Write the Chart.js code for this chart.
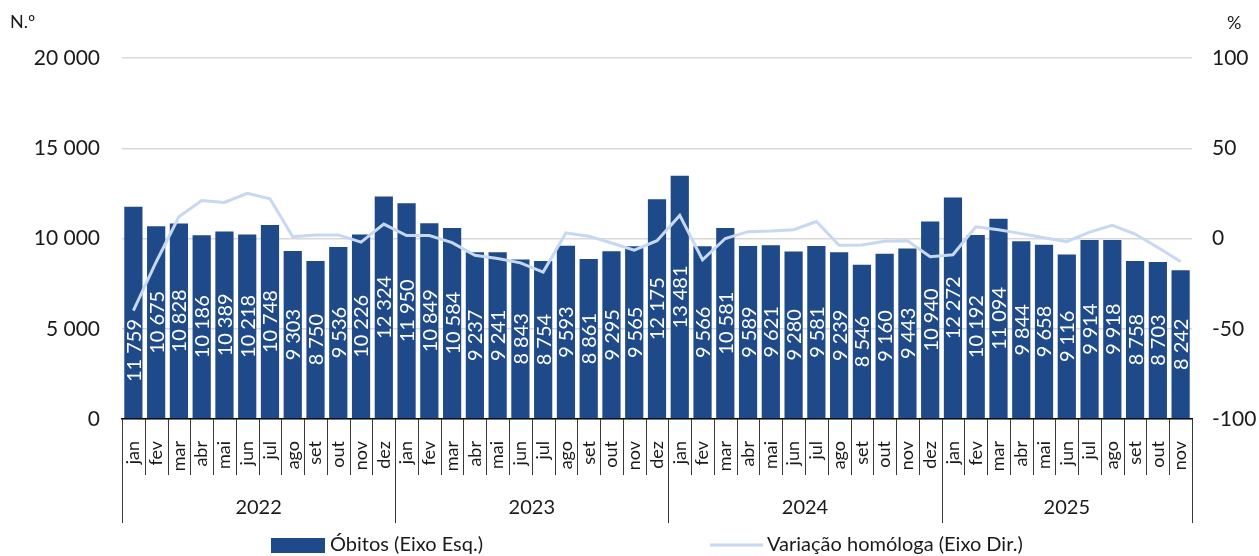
<!DOCTYPE html>
<html>
<head>
    <meta charset="UTF-8">
    <title>Óbitos por mês</title>
    <script src="https://cdn.jsdelivr.net/npm/chart.js@4.4.1/dist/chart.umd.min.js"></script>
    <style>
        html, body { margin: 0; padding: 0; background: #fff; }
        #wrap { width: 1259px; height: 556px; }
    </style>
</head>
<body>
    <script type="text/javascript">
        // data
        var years = ["2022", "2023", "2024", "2025"];
        var monthNames = ["jan", "fev", "mar", "abr", "mai", "jun", "jul", "ago", "set", "out", "nov", "dez"];
        var monthsPerYear = [12, 12, 12, 11];

        var obitos = [
            11759, 10675, 10828, 10186, 10389, 10218, 10748, 9303, 8750, 9536, 10226, 12324,
            11950, 10849, 10584, 9237, 9241, 8843, 8754, 9593, 8861, 9295, 9565, 12175,
            13481, 9566, 10581, 9589, 9621, 9280, 9581, 9239, 8546, 9160, 9443, 10940,
            12272, 10192, 11094, 9844, 9658, 9116, 9914, 9918, 8758, 8703, 8242
        ];
        var variacao = [
            -40, -13, 12, 21, 20, 25, 22, 1, 2, 2, -2, 8,
            1.6, 1.6, -2.3, -9.3, -11.1, -13.5, -18.6, 3.1, 1.3, -2.5, -6.5, -1.2,
            12.8, -11.8, 0.0, 3.8, 4.1, 4.9, 9.4, -3.7, -3.6, -1.5, -1.3, -10.1,
            -9.0, 6.5, 4.8, 2.7, 0.4, -1.8, 3.5, 7.3, 2.5, -5.0, -12.7
        ];
        var leftTicks = [0, 5000, 10000, 15000, 20000];
        var rightTicks = [-100, -50, 0, 50, 100];
        var leftUnit = "N.º";
        var rightUnit = "%";

        var labels = [];
        for (var y = 0; y < years.length; y++) {
            for (var m = 0; m < monthsPerYear[y]; m++) {
                labels.push(monthNames[m]);
            }
        }

        var FONT = "Lato, 'Liberation Sans', sans-serif";
        var BAR = "#1f4a8a";
        var LINE = "#c6d8f2";
        var INK = "#1a1a1a";

        function fmt(v) {
            // thousands separated by a narrow space, as in the original
            return String(v).replace(/\B(?=(\d{3})+(?!\d))/g, "\u202f");
        }

        var extras = {
            id: "extras",
            afterDatasetsDraw: function (chart) {
                var ctx = chart.ctx;
                var meta = chart.getDatasetMeta(0);
                ctx.save();
                ctx.fillStyle = "#ffffff";
                ctx.font = "20px " + FONT;
                ctx.textAlign = "center";
                ctx.textBaseline = "middle";
                meta.data.forEach(function (bar, i) {
                    var cy = (bar.y + bar.base) / 2;
                    if (i === 0) cy += 38; // label moved below the line in the original
                    ctx.save();
                    ctx.translate(bar.x, cy);
                    ctx.rotate(-Math.PI / 2);
                    ctx.fillText(fmt(obitos[i]), 0, 1);
                    ctx.restore();
                });
                ctx.restore();
            },
            afterDraw: function (chart) {
                var ctx = chart.ctx;
                var xs = chart.scales.x;
                var area = chart.chartArea;
                var n = labels.length;
                var step = (xs.getPixelForTick(n - 1) - xs.getPixelForTick(0)) / (n - 1);
                var edge = function (i) { return xs.getPixelForTick(0) - step / 2 + i * step; };

                ctx.save();
                ctx.strokeStyle = "#3a3a3a";
                ctx.lineWidth = 1;
                // month separators
                for (var i = 1; i < n; i++) {
                    var x = Math.round(edge(i)) + 0.5;
                    ctx.beginPath();
                    ctx.moveTo(x, area.bottom);
                    ctx.lineTo(x, area.bottom + 56);
                    ctx.stroke();
                }
                // year separators and labels
                var start = 0;
                ctx.fillStyle = INK;
                ctx.font = "20px " + FONT;
                ctx.textAlign = "center";
                ctx.textBaseline = "middle";
                for (var y = 0; y <= years.length; y++) {
                    var xb = Math.round(edge(start)) + 0.5;
                    ctx.beginPath();
                    ctx.moveTo(xb, area.bottom);
                    ctx.lineTo(xb, area.bottom + 104);
                    ctx.stroke();
                    if (y < years.length) {
                        var mid = (edge(start) + edge(start + monthsPerYear[y])) / 2;
                        ctx.fillText(years[y], mid, area.bottom + 89);
                        start += monthsPerYear[y];
                    }
                }

                // axis units
                ctx.font = "18px " + FONT;
                ctx.textAlign = "left";
                ctx.fillText(leftUnit, 10, 22);
                ctx.fillText(rightUnit, 1227, 23);

                // legend
                var ly = 545;
                ctx.fillStyle = BAR;
                ctx.fillRect(271, 538, 54, 15);
                ctx.strokeStyle = LINE;
                ctx.lineWidth = 3;
                ctx.beginPath();
                ctx.moveTo(710, ly);
                ctx.lineTo(763, ly);
                ctx.stroke();
                ctx.fillStyle = INK;
                ctx.font = "20px " + FONT;
                ctx.fillText(chart.data.datasets[0].label, 330, ly);
                ctx.fillText(chart.data.datasets[1].label, 767, ly);
                ctx.restore();
            }
        };
    </script>

    <div id="wrap"><canvas id="myChart" width="1259" height="556"></canvas></div>

    <script type="text/javascript">
        new Chart("myChart", {
            type: "bar",
            data: {
                labels: labels,
                datasets: [
                    {
                        type: "bar",
                        label: "Óbitos (Eixo Esq.)",
                        data: obitos,
                        backgroundColor: BAR,
                        yAxisID: "y",
                        barPercentage: 0.8,
                        categoryPercentage: 1.0,
                        order: 1
                    },
                    {
                        type: "line",
                        label: "Variação homóloga (Eixo Dir.)",
                        data: variacao,
                        borderColor: LINE,
                        borderWidth: 3,
                        pointRadius: 0,
                        tension: 0,
                        fill: false,
                        yAxisID: "y1",
                        order: 0
                    }
                ]
            },
            options: {
                responsive: false,
                animation: false,
                layout: { padding: { top: 58, bottom: 34, left: 0, right: 0 } },
                plugins: {
                    legend: { display: false },
                    tooltip: { enabled: false }
                },
                scales: {
                    x: {
                        grid: { display: false },
                        border: { display: true, color: "#000000", width: 1.5 },
                        ticks: {
                            autoSkip: false,
                            minRotation: 90,
                            maxRotation: 90,
                            padding: 14,
                            color: INK,
                            font: { family: FONT, size: 18 }
                        },
                        afterFit: function (scale) { scale.height = 103; }
                    },
                    y: {
                        position: "left",
                        min: 0,
                        max: 20000,
                        afterBuildTicks: function (scale) {
                            scale.ticks = leftTicks.map(function (v) { return { value: v }; });
                        },
                        grid: { color: "#d9d9d9", lineWidth: 1.5, drawTicks: false },
                        border: { display: false },
                        ticks: {
                            padding: 22,
                            color: INK,
                            font: { family: FONT, size: 21 },
                            callback: function (v) { return fmt(v); }
                        },
                        afterFit: function (scale) { scale.width = 122; }
                    },
                    y1: {
                        position: "right",
                        min: -100,
                        max: 100,
                        afterBuildTicks: function (scale) {
                            scale.ticks = rightTicks.map(function (v) { return { value: v }; });
                        },
                        grid: { drawOnChartArea: false, drawTicks: false },
                        border: { display: false },
                        ticks: {
                            padding: 20,
                            color: INK,
                            font: { family: FONT, size: 21 }
                        },
                        afterFit: function (scale) { scale.width = 67; }
                    }
                }
            },
            plugins: [extras]
        });
    </script>
</body>
</html>
